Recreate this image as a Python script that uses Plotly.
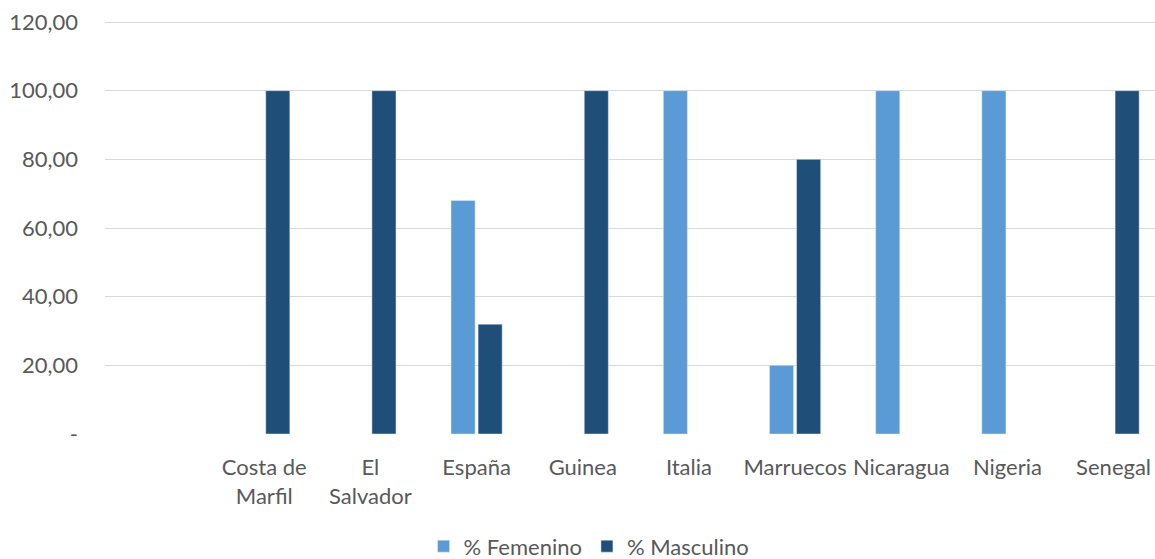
import plotly.graph_objects as go

categories = ["Costa de<br>Marfil", "El<br>Salvador", "España", "Guinea", "Italia",
              "Marruecos", "Nicaragua", "Nigeria", "Senegal"]
femenino = [None, None, 68, None, 100, 20, 100, 100, None]
masculino = [100, 100, 32, 100, None, 80, None, None, 100]
y_tickvals = [0, 20, 40, 60, 80, 100, 120]
y_ticktext = ["-", "20,00", "40,00", "60,00", "80,00", "100,00", "120,00"]

FONT = "Lato, 'Open Sans', sans-serif"
TXT = "#595959"

fig = go.Figure()
fig.add_trace(go.Bar(x=categories, y=femenino, name="% Femenino", marker_color="#5B9BD5"))
fig.add_trace(go.Bar(x=categories, y=masculino, name="% Masculino", marker_color="#1F4E79"))

fig.update_layout(
    width=1155, height=559,
    margin=dict(l=105, r=0, t=21, b=125, autoexpand=False),
    plot_bgcolor="white", paper_bgcolor="white",
    barmode="group", bargap=0.49, bargroupgap=0.11,
    font=dict(family=FONT, size=22, color=TXT),
    legend=dict(orientation="h", x=0.461, xanchor="center", y=-0.272, yanchor="middle",
                font=dict(size=22, color=TXT), traceorder="normal"),
    xaxis=dict(range=[-1.5, 8.39], type="category", showgrid=False, showline=False,
               ticks="", ticklabelstandoff=18, automargin=False,
               ticklabeloverflow="allow",
               tickfont=dict(size=22, color=TXT)),
    yaxis=dict(range=[0, 120.3], tickvals=y_tickvals, ticktext=y_ticktext,
               showgrid=True, gridcolor="#D9D9D9", gridwidth=1.3, zeroline=False,
               showline=False, ticks="", ticklabelstandoff=26, automargin=False,
               ticklabeloverflow="allow",
               tickfont=dict(size=22, color=TXT)),
)

fig.write_html(
    "out.html",
    config={"displayModeBar": False},
    post_script="document.body.style.margin='0';document.documentElement.style.overflow='hidden';document.body.style.overflow='hidden';",
)
